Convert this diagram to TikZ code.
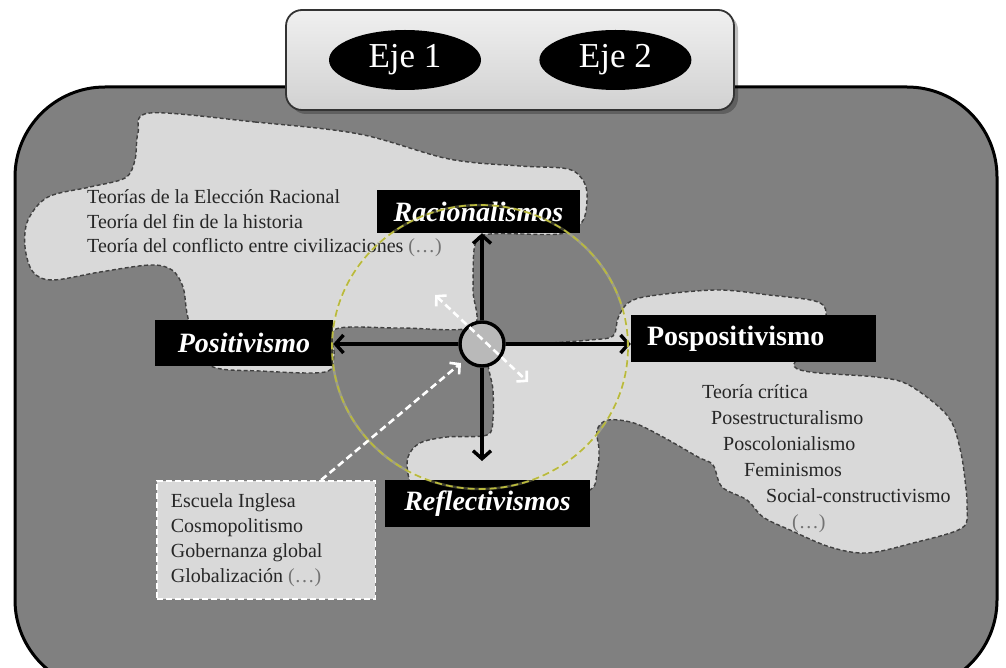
\documentclass[tikz,border=0pt]{standalone}
\usepackage{fontspec}
\setmainfont{Liberation Serif}
\usetikzlibrary{shapes,arrows,positioning,calc,arrows.meta}

\definecolor{panelgray}{RGB}{128,128,128}
\definecolor{blobgray}{RGB}{217,217,217}
\definecolor{circlegray}{RGB}{185,185,185}
\definecolor{ringyellow}{RGB}{185,185,60}
\definecolor{glowyellow}{RGB}{245,245,170}

\begin{document}
\begin{tikzpicture}[x=1pt, y=-1pt,
    blob/.style={fill=blobgray, draw=black!75, dash pattern=on 4pt off 2.5pt, line width=1.4pt},
    labelbox/.style={fill=black, text=white, inner sep=0pt, font=\fontsize{28}{30}\selectfont\bfseries},
    listtext/.style={anchor=base west, inner sep=0pt, font=\fontsize{20}{24}\selectfont, text=black!85},
    axisarrow/.style={line width=3.4pt, -{Straight Barb[length=8pt,width=18pt]}},
    hintarrow/.style={white, line width=2.6pt, dash pattern=on 7pt off 4pt}]

    \useasboundingbox (0,0) rectangle (1006,668);
    \clip (0,0) rectangle (1006,668);

    % big panel
    \draw[fill=panelgray, line width=3pt, rounded corners=90pt] (15,87) rectangle (997,690);

    % light zones (dashed outlines)
    \draw[blob] plot[smooth cycle, tension=0.55] coordinates {
        (150,113) (255,122) (359,134) (449,159) (520,166) (568,169) (584,182)
        (587,200) (582,222) (560,234) (490,234) (475,245) (473,290) (472,327)
        (400,328) (336,329) (334,355) (325,372) (260,371) (213,367) (195,345)
        (187,313) (183,287) (172,270) (150,265) (100,272) (53,280) (33,272)
        (25,247) (28,220) (48,197) (90,187) (125,178) (135,160) (138,133)};
    \draw[blob] plot[smooth cycle, tension=0.55] coordinates {
        (490,350) (540,344) (590,340) (613,336) (618,318) (628,303) (650,296)
        (716,290) (769,295) (818,302) (826,318) (815,345) (794,364) (810,372)
        (876,377) (907,384) (939,407) (953,425) (961,453) (965,480) (967,507)
        (962,528) (913,543) (867,553) (830,547) (790,530) (763,517) (747,500)
        (722,487) (713,465) (698,457) (663,437) (634,423) (608,420) (597,430)
        (599,450) (597,470) (585,492) (500,495) (420,492) (409,478) (408,457)
        (420,443) (447,437) (487,435) (493,418) (493,390)};

    % tab with the two axes
    \fill[black, opacity=0.25, rounded corners=16pt] (290,14) rectangle (738,114);
    \draw[rounded corners=16pt, line width=1.8pt, draw=black!80, top color=black!6, bottom color=black!18] (286,10) rectangle (734,110);
    \node[ellipse, fill=black, text=white, minimum width=152pt, minimum height=60pt, inner sep=0pt,
          font=\fontsize{35}{35}\selectfont] (eje1) at (405,60) {Eje 1};
    \node[ellipse, fill=black, text=white, minimum width=152pt, minimum height=60pt, inner sep=0pt,
          font=\fontsize{35}{35}\selectfont, right=58pt of eje1] (eje2) {Eje 2};

    % box at the lower left
    \node[fill=blobgray, draw=white, dash pattern=on 6pt off 3pt, line width=1.8pt, anchor=north west,
          minimum width=198pt, minimum height=118pt, inner xsep=14pt, align=left,
          font=\fontsize{20}{25}\selectfont, text=black!85] (escuela) at (156,480)
          {Escuela Inglesa\\Cosmopolitismo\\Gobernanza global\\Globalización \textcolor{black!55}{(…)}\hspace*{40pt}};

    % lists
    \foreach \t [count=\i] in {Teorías de la Elección Racional, Teoría del fin de la historia,
        Teoría del conflicto entre civilizaciones \textcolor{black!55}{(…)}}
        \node[listtext] (teo\i) at (87,{204+24.5*(\i-1)}) {\t};
    \foreach \t/\px [count=\i] in {Teoría crítica/702, Posestructuralismo/711, Poscolonialismo/723,
        Feminismos/744, Social-constructivismo/766, {\textcolor{black!55}{(…)}}/792}
        \node[listtext] (pos\i) at (\px,{398+26*(\i-1)}) {\t};

    % black labels
    \node[labelbox, minimum width=203pt, minimum height=43pt, font=\fontsize{28}{30}\selectfont\bfseries\itshape] (racio) at (478.5,211.5) {Racionalismos};
    \node[labelbox, minimum width=178pt, minimum height=46pt, font=\fontsize{28}{30}\selectfont\bfseries\itshape] (posit) at (244,343) {Positivismo};
    \node[labelbox, minimum height=47pt, inner xsep=16pt, text width=213pt, align=left] (pospo) at (753.5,338.5) {Pospositivismo};
    \node[labelbox, minimum width=205pt, minimum height=47pt, font=\fontsize{28}{30}\selectfont\bfseries\itshape] (refle) at (487.5,503.5) {Reflectivismos};

    % axes from the hub
    \node[circle, draw, line width=3.4pt, fill=circlegray, minimum size=44pt, inner sep=0pt] (hub) at (482,344) {};
    \coordinate (downtip) at (482,461);
    \draw[axisarrow] (hub.north) -- (hub.north |- racio.south);
    \draw[axisarrow] (hub.west) -- (hub.west -| posit.east);
    \draw[axisarrow] (hub.east) -- (hub.east -| pospo.west);
    \draw[axisarrow] (hub.south) -- (downtip);

    % white dashed hints
    \coordinate (diagnw) at (435,295);
    \coordinate (diagse) at (528,382);
    \coordinate (hubin) at (461,363);
    \coordinate (esctop) at ($(escuela.north)+(55,0)$);
    \draw[hintarrow, {Straight Barb[length=7pt,width=15pt]}-{Straight Barb[length=7pt,width=15pt]}] (diagnw) -- (diagse);
    \draw[hintarrow, -{Straight Barb[length=7pt,width=15pt]}] (esctop) -- (hubin);

    % yellow ring
    \draw[glowyellow, line width=2.5pt, opacity=0.25] (480,347) ellipse [x radius=148pt, y radius=142pt];
    \draw[ringyellow, dash pattern=on 7pt off 4pt, line width=1.7pt] (480,347) ellipse [x radius=148pt, y radius=142pt];
\end{tikzpicture}
\end{document}
